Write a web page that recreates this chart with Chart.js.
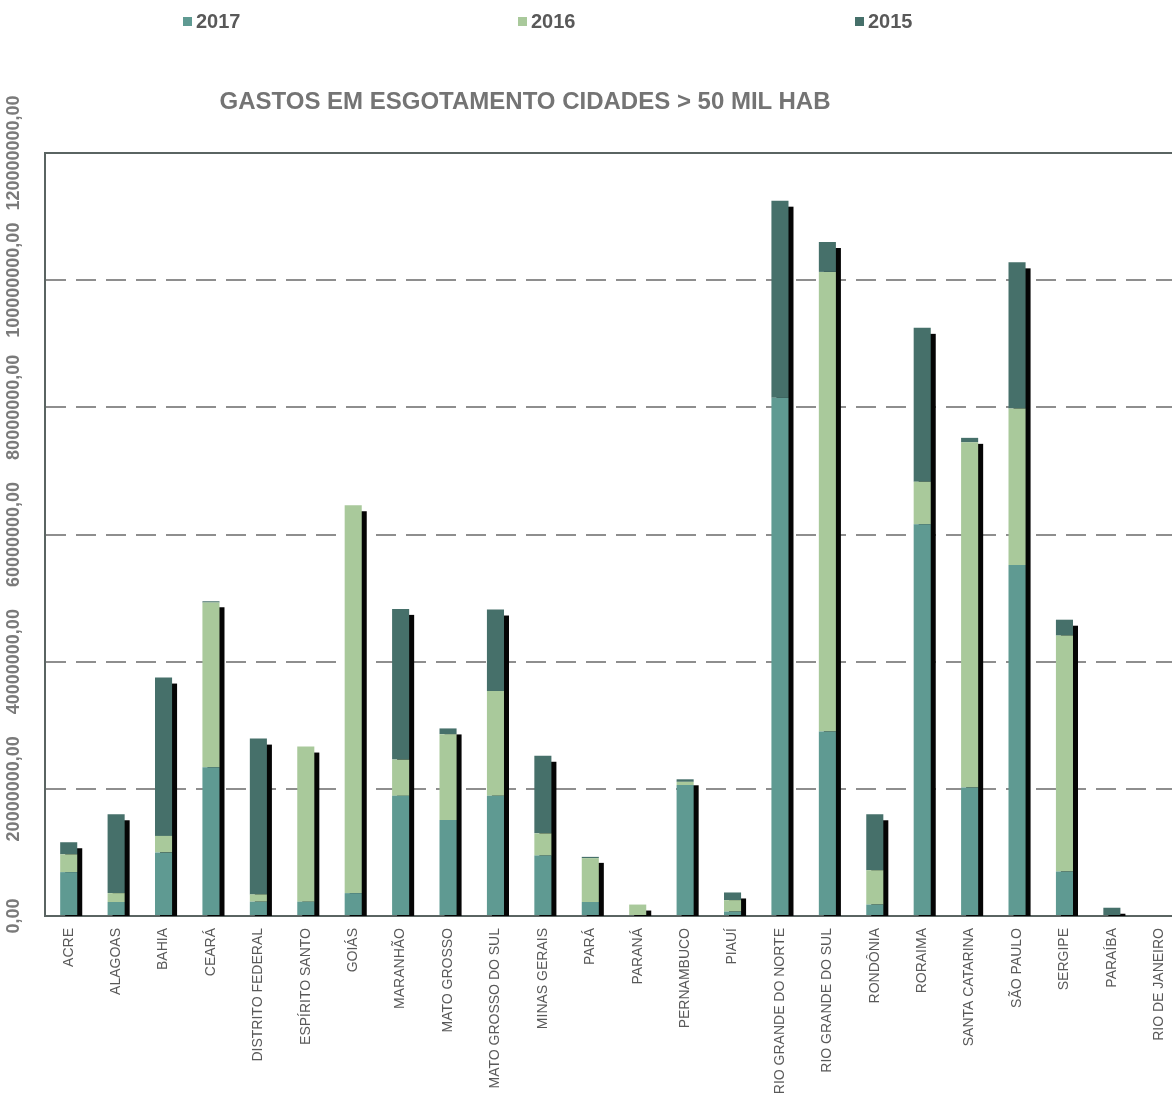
<!DOCTYPE html>
<html>
<head>
<meta charset="utf-8">
<script src="https://cdn.jsdelivr.net/npm/chart.js@4"></script>
<style>
    html, body { margin: 0; padding: 0; background: #fff; overflow: hidden; }
    #wrap { position: relative; width: 1190px; height: 1115px; }
    #title {
        position: absolute; left: 0; width: 1050px; top: 87px; text-align: center;
        font: bold 24px "Liberation Sans", Arial, sans-serif; color: #747474;
    }
    #legend { position: absolute; top: 0; left: 0; width: 1190px; height: 40px; }
    .item {
        position: absolute; top: 10px; font: bold 20px "Liberation Sans", Arial, sans-serif;
        color: #595959; display: flex; align-items: center;
    }
    .item span.box { display: inline-block; width: 9px; height: 9px; margin-right: 4px; }
</style>
</head>
<body>
<div id="wrap">
    <div id="legend"></div>
    <div id="title">GASTOS EM ESGOTAMENTO CIDADES &gt; 50 MIL HAB</div>
    <canvas id="chart" width="1190" height="1115"></canvas>
</div>
<script>
const states = ['ACRE', 'ALAGOAS', 'BAHIA', 'CEARÁ', 'DISTRITO FEDERAL', 'ESPÍRITO SANTO', 'GOIÁS',
    'MARANHÃO', 'MATO GROSSO', 'MATO GROSSO DO SUL', 'MINAS GERAIS', 'PARÁ', 'PARANÁ', 'PERNAMBUCO',
    'PIAUÍ', 'RIO GRANDE DO NORTE', 'RIO GRANDE DO SUL', 'RONDÔNIA', 'RORAIMA', 'SANTA CATARINA',
    'SÃO PAULO', 'SERGIPE', 'PARAÍBA', 'RIO DE JANEIRO'];

// values in R$
const gastos2017 = [6900000, 2200000, 10000000, 23400000, 2250000, 2250000, 3600000, 18900000, 15100000,
    18900000, 9500000, 2200000, 0, 20600000, 700000, 81500000, 29000000, 1800000, 61600000, 20200000,
    55200000, 7000000, 0, 0];
const gastos2016 = [2800000, 1400000, 2600000, 25900000, 1150000, 24400000, 61000000, 5700000, 13500000,
    16500000, 3500000, 6900000, 1800000, 500000, 1800000, 0, 72300000, 5400000, 6700000, 54300000,
    24600000, 37100000, 0, 0];
const gastos2015 = [1900000, 12400000, 24900000, 200000, 24500000, 0, 0, 23700000, 900000,
    12800000, 12200000, 200000, 0, 400000, 1200000, 31000000, 4700000, 8800000, 24200000, 700000,
    23000000, 2500000, 1300000, 0];

const yTicks = [0, 20000000, 40000000, 60000000, 80000000, 100000000, 120000000];

const series = [
    { label: '2017', data: gastos2017, color: '#5f9a92' },
    { label: '2016', data: gastos2016, color: '#a9c99b' },
    { label: '2015', data: gastos2015, color: '#46706a' }
];

// html legend, spaced like the original
const legendEl = document.getElementById('legend');
const legendX = [183, 518, 855];
series.forEach((s, i) => {
    const d = document.createElement('div');
    d.className = 'item';
    d.style.left = legendX[i] + 'px';
    d.innerHTML = `<span class="box" style="background:${s.color}"></span>${s.label}`;
    legendEl.appendChild(d);
});

const fmt = v => v.toFixed(2).replace('.', ',');

// black drop shadow behind each column, top border, rotated y labels centred on ticks
const shadowPlugin = {
    id: 'barShadow',
    beforeDatasetsDraw(chart) {
        const ctx = chart.ctx;
        const base = chart.scales.y.getPixelForValue(0);
        ctx.save();
        ctx.fillStyle = '#050505';
        states.forEach((s, i) => {
            let top = base, x = null, w = 0;
            chart.data.datasets.forEach((ds, di) => {
                const el = chart.getDatasetMeta(di).data[i];
                if (!el || !ds.data[i]) return;
                x = el.x; w = el.width;
                top = Math.min(top, el.y);
            });
            if (x === null) return;
            const yTop = Math.min(top + 6, base);
            ctx.fillRect(x - w / 2 + 5, yTop, w, base - yTop);
        });
        ctx.restore();
    },
    afterDraw(chart) {
        const a = chart.chartArea;
        const ctx = chart.ctx;
        const yScale = chart.scales.y;
        ctx.save();
        ctx.strokeStyle = '#5a6462';
        ctx.lineWidth = 2;
        ctx.beginPath();
        ctx.moveTo(a.left, a.top);
        ctx.lineTo(a.right, a.top);
        ctx.stroke();

        ctx.fillStyle = '#7a7a7a';
        ctx.font = 'bold 18px "Liberation Sans", Arial, sans-serif';
        ctx.textAlign = 'center';
        ctx.textBaseline = 'middle';
        yScale.ticks.forEach(t => {
            const py = yScale.getPixelForValue(t.value);
            ctx.save();
            ctx.translate(14, py);
            ctx.rotate(-Math.PI / 2);
            ctx.fillText(fmt(t.value), 0, 0);
            ctx.restore();
        });
        ctx.restore();
    }
};

new Chart(document.getElementById('chart'), {
    type: 'bar',
    data: {
        labels: states,
        datasets: series.map(s => ({
            label: s.label,
            data: s.data,
            backgroundColor: s.color,
            borderWidth: 0,
            categoryPercentage: 1,
            barPercentage: 0.36
        }))
    },
    options: {
        responsive: false,
        animation: false,
        layout: { padding: { top: 153, right: 7 } },
        plugins: {
            legend: { display: false },
            title: { display: false },
            tooltip: { enabled: false }
        },
        scales: {
            x: {
                stacked: true,
                grid: { display: false },
                border: { color: '#5a6462', width: 2 },
                ticks: {
                    minRotation: 90,
                    maxRotation: 90,
                    autoSkip: false,
                    padding: 4,
                    color: '#595959',
                    font: { family: 'Liberation Sans', size: 14 }
                },
                afterFit: scale => { scale.height = 199; }
            },
            y: {
                stacked: true,
                min: 0,
                max: 120000000,
                afterBuildTicks: scale => { scale.ticks = yTicks.map(v => ({ value: v })); },
                grid: {
                    color: ctx => (ctx.tick.value === 0 || ctx.tick.value === 120000000) ? 'rgba(0,0,0,0)' : '#8e8e8e',
                    lineWidth: 2,
                    drawTicks: false
                },
                border: { color: '#5a6462', width: 2, dash: [20, 10] },
                ticks: { display: false },
                afterFit: scale => { scale.width = 45; }
            }
        }
    },
    plugins: [shadowPlugin]
});
</script>
</body>
</html>
